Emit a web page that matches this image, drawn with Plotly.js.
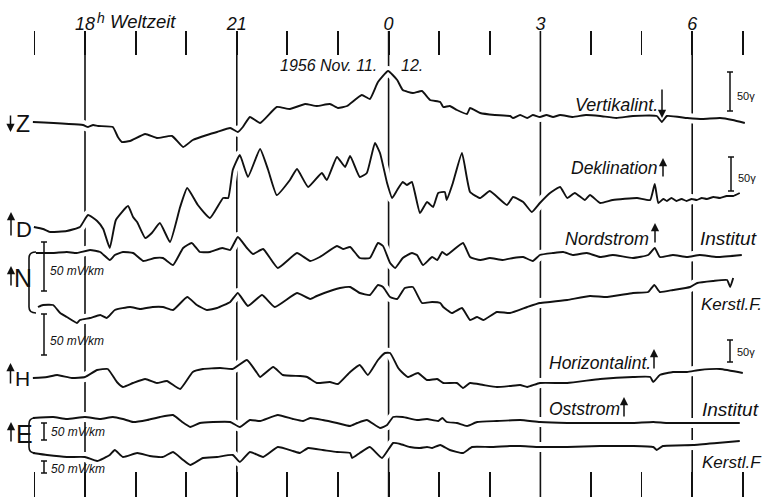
<!DOCTYPE html>
<html><head><meta charset="utf-8">
<script src="https://cdn.plot.ly/plotly-3.0.1.min.js"></script>
<style>html,body{margin:0;padding:0;background:#fff;}#chart{width:766px;height:499px;}</style>
</head><body><div id="chart"></div>
<script>
// ---------- data (time in hours UT, 24 = 0h Nov 12; values = deflection, up positive) ----------
const hourTicks  = [17,18,19,20,21,22,23,24,25,26,27,28,29,30,31];
const hourLabels = ['','18','','','21','','','0','','','3','','','6',''];

const zTime = [16.97,17.96,18.06,18.16,18.26, 18.55,18.65,18.73,18.89,19.19, 19.42,19.72,19.94,20.13,20.41,
  20.61,20.87,21.02,21.12,21.26, 21.46,21.79,22.05,22.35,22.58, 22.84,23.00,23.18,23.47,23.63,
  23.79,23.99,24.17,24.28,24.48, 24.66,24.82,25.02,25.08,25.21, 25.35,25.55,25.61,25.81,26.10,
  26.40,26.46,26.60,26.74,26.85, 26.99,27.12,27.25,27.39,27.64, 27.90,28.18,28.50,28.83,29.30,
  29.40,29.50,29.90,30.20,30.55, 30.80,31.04];
const zVal  = [0,-3,-5,-3,-4, -5,-15,-20,-19,-12, -16,-14,-25,-18,-13,
  -10,-6,-10,-5,5, -1,15,13,18,16, 18,14,16,27,23,
  40,51,42,32,29, 31,22,20,15,16, 12,8,14,9,7,
  6,4,7,4,7, 5,7,5,7,5, 7,6,4,6,6,
  0,6,4,3,4, 2,-1];

const dTime = [16.99,17.17,17.31,17.64,17.90, 18.06,18.24,18.36,18.49,18.61, 18.85,18.95,19.03,19.19,19.32,
  19.48,19.68,19.88,20.02,20.23, 20.47,20.73,20.83,20.92,21.06, 21.22,21.46,21.62,21.79,22.05,
  22.19,22.41,22.68,22.78,22.98, 23.14,23.24,23.43,23.57,23.73, 23.83,23.97,24.07,24.17,24.28,
  24.36,24.46,24.62,24.76,24.88, 24.98,25.11,25.15,25.27,25.45, 25.61,25.81,26.00,26.34,26.46,
  26.66,26.83,26.99,27.19,27.39, 27.53,27.68,27.88,27.98,28.18, 28.43,28.91,29.17,29.26,29.33,
  29.43,29.50,29.59,29.69,29.79, 29.89,29.99,30.09,30.19,30.29, 30.42,30.55,30.68,30.81,30.94];
const dVal  = [0,-2,-5,-4,0, 12,6,-2,-21,7, 21,10,5,-11,-6,
  4,-15,20,39,22, 9,29,29,57,72, 50,78,57,32,47,
  58,40,54,47,70, 60,71,50,54,84, 74,44,29,37,45,
  42,45,14,25,20, 34,35,27,44,74, 35,29,36,22,30,
  25,15,24,34,40, 29,34,27,32,24, 27,29,27,43,24,
  28,26,29,26,28, 26,28,27,29,28, 30,29,31,31,34];

const nInstTime = [17.03,17.37,17.64,17.84,18.10, 18.30,18.49,18.59,18.75,18.95, 19.15,19.38,19.54,19.74,19.94,
  20.11,20.27,20.47,20.71,20.87, 21.02,21.20,21.32,21.52,21.81, 22.19,22.45,22.64,22.98,23.10,
  23.24,23.43,23.63,23.79,23.89, 24.03,24.13,24.28,24.46,24.56, 24.68,24.86,24.96,25.06,25.15,
  25.47,25.61,25.81,26.00,26.26, 26.46,26.66,26.85,26.99,27.25, 27.45,27.64,27.92,28.18,28.43,
  28.83,29.13,29.26,29.36,29.62, 29.90,30.15,30.49,30.98];
const nInstVal  = [0,0,1,0,3, 1,-7,-2,1,0, -8,-5,-5,-12,5,
  10,1,1,5,3, 16,5,-1,4,-15, 0,-8,-4,7,4,
  6,-5,-5,10,7, -10,-15,-5,0,-2, -12,-4,-7,1,-2,
  10,-4,-7,-5,-7, -5,-4,-8,-2,0, 1,-2,0,-4,-2,
  -5,-2,5,-4,-2, -4,-2,-4,-2];

const nKerTime = [17.07,17.17,17.37,17.51,17.64, 17.84,17.90,18.10,18.30,18.43, 18.59,18.89,19.09,19.34,19.54,
  19.74,20.02,20.21,20.41,20.61, 20.87,21.02,21.22,21.50,21.75, 22.19,22.45,22.58,22.90,23.04,
  23.24,23.43,23.63,23.79,23.89, 24.03,24.17,24.32,24.48,24.66, 24.86,25.02,25.08,25.25,25.45,
  25.61,25.75,25.87,26.14,26.40, 26.74,26.99,27.19,27.53,27.98, 28.32,28.83,29.13,29.25,29.36,
  29.62,29.96,30.10,30.41,30.69, 30.75,30.81];
const nKerVal  = [6,8,8,0,-4, -10,-7,-5,-2,-5, 3,6,4,6,6,
  3,16,8,3,5, 11,20,7,18,6, 20,14,17,23,25,
  26,20,18,28,26, 16,14,25,26,10, 11,10,6,0,5,
  -7,-4,-7,1,0, 6,10,11,13,17, 16,20,21,28,21,
  23,26,30,32,33, 26,35];

const hTime = [16.97,17.25,17.45,17.74,18.00, 18.24,18.45,18.63,18.75,18.95, 19.19,19.42,19.62,19.88,20.13,
  20.33,20.67,20.92,21.20,21.40, 21.46,21.72,21.91,22.25,22.39, 22.58,22.84,23.00,23.24,23.43,
  23.59,23.79,23.93,24.03,24.19, 24.26,24.38,24.58,24.76,24.96, 25.08,25.35,25.47,25.61,25.87,
  26.14,26.40,26.60,26.74,26.99, 27.53,28.18,28.83,29.17,29.23, 29.36,29.62,29.90,30.15,30.55,
  31.00];
const hVal  = [0,1,3,0,1, 8,9,-4,-9,-5, -1,-5,-3,-11,6,
  9,10,9,18,5, 1,11,3,2,1, -5,-4,-6,6,13,
  3,18,25,25,10, 6,1,5,-2,-1, -5,-5,-10,-5,-7,
  -9,-8,-7,-9,-5, -5,-1,1,1,-4, 3,6,6,8,9,
  5];

const eInstTime = [16.97,17.37,17.64,18.00,18.30, 18.55,18.75,18.95,19.23,19.48, 19.74,19.92,20.08,20.27,20.53,
  20.87,21.06,21.26,21.46,21.81, 22.11,22.31,22.45,22.70,22.98, 23.24,23.38,23.57,23.83,23.97,
  24.09,24.28,24.56,24.76,24.98, 25.06,25.15,25.35,25.55,25.75, 26.14,26.60,26.99,27.53,28.18,
  28.83,29.23,29.50,30.15,30.94];
const eInstVal  = [0,1,-1,1,-1, 1,-1,-4,-2,1, 3,-4,-9,-5,-4,
  -4,-9,-2,-3,3, -1,-3,0,-2,-5, -8,-5,-2,-10,-7,
  1,1,-2,-1,-3, 0,-4,-5,-8,-4, -3,-2,-4,-5,-5,
  -5,-4,-5,-5,-5];

const eKerTime = [16.97,17.25,17.64,18.00,18.24, 18.49,18.59,18.75,19.03,19.28, 19.54,19.74,19.94,20.08,20.33,
  20.61,20.92,21.06,21.26,21.52, 21.81,22.11,22.25,22.41,22.70, 22.98,23.24,23.28,23.43,23.63,
  23.87,24.09,24.23,24.42,24.62, 24.76,24.86,25.02,25.21,25.47, 25.65,26.00,26.40,26.60,26.99,
  27.53,28.18,28.83,29.23,29.30, 29.42,30.02,30.49,30.94];
const eKerVal  = [-1,-3,-5,-5,-9, -3,2,-5,-1,-4, -5,0,-8,-13,-6,
  -5,-3,-10,0,-5, 5,1,-1,4,2, 0,-1,-6,-1,5,
  -6,9,8,5,4, 5,4,7,2,-1, 5,5,6,6,5,
  5,6,6,5,2, 6,7,9,11];

// ---------- geometry (layout only) ----------
const W = 766, PLOT_TOP = 56, PLOT_BOT = 471;
const PX18 = 85, PXH = 50.6;
const X0 = 18 - PX18 / PXH, X1 = 18 + (W - PX18) / PXH;
const px = p => p / W;                                  // paper x from pixel
const py = p => (PLOT_BOT - p) / (PLOT_BOT - PLOT_TOP); // paper y from pixel
const hx = h => (PX18 + (h - 18) * PXH) / W;            // paper x from hour

const FONT = "'Liberation Sans Narrow', 'Liberation Sans', Arial, sans-serif";

// stacked offsets of each record on the sheet
const series = [
  {t: zTime, v: zVal, base: 377, ax: 'x2'},
  {t: dTime, v: dVal, base: 272, ax: 'x2'},
  {t: nInstTime, v: nInstVal, base: 246, ax: 'x'},
  {t: nKerTime, v: nKerVal, base: 186, ax: 'x'},
  {t: hTime, v: hVal, base: 121, ax: 'x2'},
  {t: eInstTime, v: eInstVal, base: 81, ax: 'x'},
  {t: eKerTime, v: eKerVal, base: 47, ax: 'x'}
];

const traces = [];
series.forEach(s => traces.push({x: s.t, y: s.v.map(d => s.base + d), xaxis: s.ax, yaxis: 'y',
  mode: 'lines', line: {color: '#fff', width: 10, shape: 'spline', smoothing: 0.4},
  hoverinfo: 'skip', showlegend: false}));
series.forEach(s => traces.push({x: s.t, y: s.v.map(d => s.base + d), xaxis: s.ax, yaxis: 'y',
  mode: 'lines', line: {color: '#111', width: 1.9, shape: 'spline', smoothing: 0.4},
  hoverinfo: 'skip', showlegend: false}));

// ---------- shapes ----------
const shapes = [];
[18, 21, 24, 27, 30].forEach(h => shapes.push({type: 'line', xref: 'paper', yref: 'paper',
  x0: hx(h), x1: hx(h), y0: py(497), y1: py(31), layer: 'below', line: {color: '#111', width: 1.6}}));

function bar(x, y0, y1) {
  const a = px(x - 3), b = px(x + 3), c = px(x);
  shapes.push({type: 'path', xref: 'paper', yref: 'paper', line: {color: '#111', width: 1.5},
    path: `M${c},${py(y0)}L${c},${py(y1)}M${a},${py(y0)}L${b},${py(y0)}M${a},${py(y1)}L${b},${py(y1)}`});
}
bar(730, 72, 111); bar(731, 157, 191); bar(730, 340, 362);
bar(44, 242, 291); bar(44, 314, 355); bar(44, 423, 440); bar(44, 461, 473);

function brace(x0, x1, yTop, yBot) {
  const r = 6;
  shapes.push({type: 'path', xref: 'paper', yref: 'paper', line: {color: '#111', width: 1.6},
    path: `M${px(x1)},${py(yTop)}Q${px(x0)},${py(yTop)} ${px(x0)},${py(yTop + r)}` +
          `L${px(x0)},${py(yBot - r)}Q${px(x0)},${py(yBot)} ${px(x1)},${py(yBot)}`});
}
brace(29, 36, 252, 313);
brace(29, 35, 418, 453);

// ---------- annotations ----------
const ann = [];
function lab(text, x, y, size, anchor, style) {
  ann.push({text, xref: 'paper', yref: 'paper', x: px(x), y: py(y), xanchor: anchor || 'left',
    yanchor: 'middle', showarrow: false,
    font: {family: FONT, size: size, color: '#111', style: style || 'italic'}});
}
function arrow(x, yHead, yTail) {
  ann.push({text: '', xref: 'paper', yref: 'paper', x: px(x), y: py(yHead), ax: 0, ay: yTail - yHead,
    showarrow: true, arrowhead: 2, arrowsize: 1.1, arrowwidth: 1.5, arrowcolor: '#111',
    standoff: 0, startstandoff: 0});
}
// top
lab('h', 95, 18, 14);
lab('Weltzeit', 108, 22, 18.5);
lab('1956 Nov. 11.', 379, 65, 16, 'right');
lab('12.', 399, 65, 16);
// left component letters
arrow(10.5, 132, 114); lab('Z', 14, 124, 23, 'left', 'normal');
arrow(11, 212, 237);  lab('D', 14, 229, 22, 'left', 'normal');
arrow(11, 266, 287);  lab('N', 12, 278, 25, 'left', 'normal');
arrow(10.5, 363, 385); lab('H', 13, 378, 21, 'left', 'normal');
arrow(11, 422, 443);  lab('E', 14, 434, 25, 'left', 'normal');
// electric scale labels
lab('50 mV/km', 48, 271, 12);
lab('50 mV/km', 48, 341, 12);
lab('50 mV/km', 49, 432, 12);
lab('50 mV/km', 49, 469, 12);
// magnetic scale labels
lab('50γ', 735, 96, 11, 'left', 'normal');
lab('50γ', 736, 178, 11, 'left', 'normal');
lab('50γ', 735, 352, 11, 'left', 'normal');
// right-hand labels
lab('Vertikalint.', 573, 105, 18); arrow(662, 118, 88);
lab('Deklination', 569, 168, 17.5);  arrow(663, 158, 178);
lab('Nordstrom', 563, 239, 18);    arrow(655, 223, 244);
lab('Institut', 698, 239, 19);
lab('Kerstl.F.', 699, 304, 17);
lab('Horizontalint.', 547, 363, 17.5); arrow(654, 349, 370);
lab('Oststrom', 547, 409, 17.5);     arrow(624, 397, 418);
lab('Institut', 700, 409, 19);
lab('Kerstl.F', 700, 462, 17);

const axisCommon = {range: [X0, X1], tickvals: hourTicks, ticks: 'outside', tickcolor: '#111',
  tickwidth: 1.8, showgrid: false, zeroline: false, showline: false, fixedrange: true};

const layout = {
  width: 766, height: 499,
  margin: {l: 0, r: 0, t: PLOT_TOP, b: 499 - PLOT_BOT, pad: 0},
  paper_bgcolor: '#fff', plot_bgcolor: '#fff', showlegend: false,
  xaxis: Object.assign({}, axisCommon, {side: 'bottom', ticklen: 25, showticklabels: false}),
  xaxis2: Object.assign({}, axisCommon, {side: 'top', overlaying: 'x', anchor: 'y', ticklen: 24,
    ticktext: hourLabels, showticklabels: true, ticklabelstandoff: -6,
    tickfont: {family: FONT, size: 18, color: '#111', style: 'italic'}}),
  yaxis: {range: [499 - PLOT_BOT, 499 - PLOT_TOP], visible: false, fixedrange: true},
  shapes: shapes, annotations: ann
};

Plotly.newPlot('chart', traces, layout, {staticPlot: true, displayModeBar: false});
</script></body></html>
